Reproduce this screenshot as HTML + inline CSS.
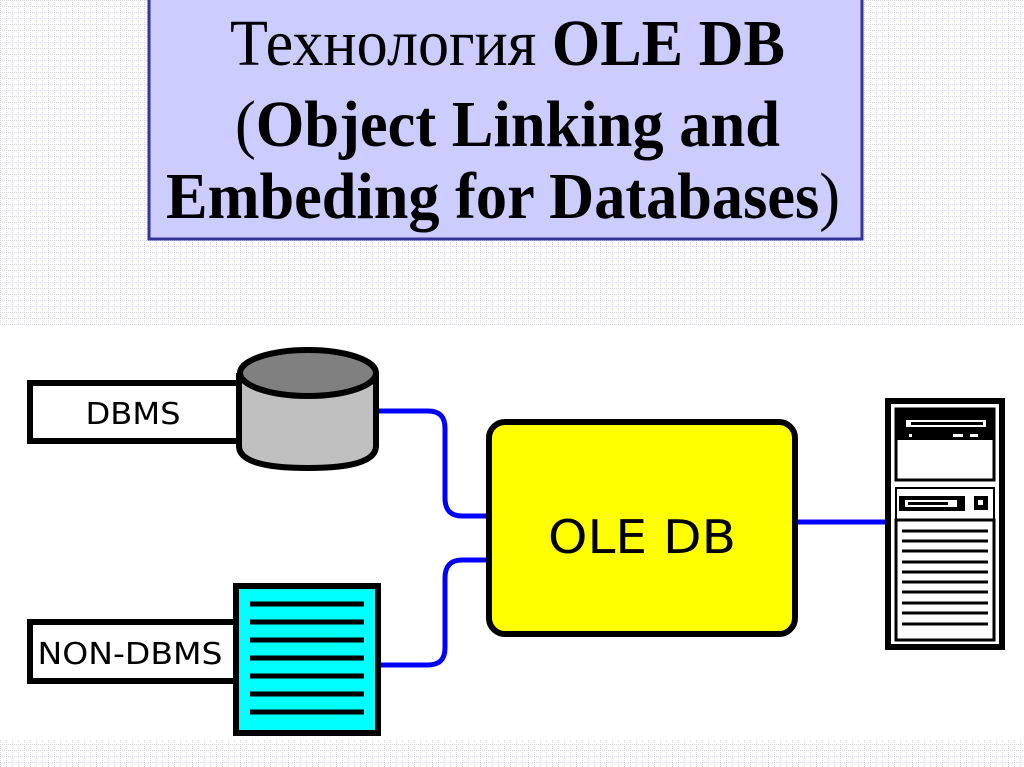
<!DOCTYPE html>
<html><head><meta charset="utf-8"><style>
html,body{margin:0;padding:0;width:1024px;height:767px;overflow:hidden;background:#fff}
</style></head><body>
<svg width="1024" height="767" viewBox="0 0 1024 767" xmlns="http://www.w3.org/2000/svg">
<defs>
<pattern id="g" width="6" height="6" patternUnits="userSpaceOnUse">
<rect width="6" height="6" fill="#fff"/>
<path d="M0 0.5H6M0.5 0V6" stroke="#d4d4ee" stroke-width="1" stroke-dasharray="1 1"/>
</pattern>
</defs>
<rect x="0" y="0" width="1024" height="325" fill="url(#g)"/>
<rect x="0" y="740" width="1024" height="27" fill="url(#g)"/>
<rect x="149" y="-3" width="713" height="242" fill="#ccccff" stroke="#333399" stroke-width="3"/>
<g font-family="Liberation Serif, serif" font-size="66" fill="#000">
<text x="230" y="65" textLength="555" lengthAdjust="spacingAndGlyphs">Технология <tspan font-weight="bold">OLE DB</tspan></text>
<text x="235" y="146" textLength="545" lengthAdjust="spacingAndGlyphs">(<tspan font-weight="bold">Object Linking and</tspan></text>
<text x="166" y="218" textLength="674" lengthAdjust="spacingAndGlyphs"><tspan font-weight="bold">Embeding for Databases</tspan>)</text>
</g>
<!-- connectors -->
<g fill="none" stroke="#0000ff" stroke-width="5">
<path d="M378 411H428Q445 411 445 428V498Q445 516 462 516H490"/>
<path d="M378 665H428Q445 665 445 648V578Q445 560 462 560H490"/>
<path d="M795 522H888"/>
</g>
<!-- DBMS -->
<rect x="30" y="383" width="210" height="58" fill="#fff" stroke="#000" stroke-width="6"/>
<text x="133" y="424" font-family="DejaVu Sans, sans-serif" font-size="30" text-anchor="middle" textLength="95" lengthAdjust="spacingAndGlyphs">DBMS</text>
<path d="M239 373V446Q239 468 308 468Q376 468 376 446V373" fill="#c0c0c0" stroke="#000" stroke-width="6"/>
<ellipse cx="308" cy="373" rx="68" ry="23" fill="#808080" stroke="#000" stroke-width="6"/>
<!-- NON-DBMS -->
<rect x="30" y="622" width="208" height="59" fill="#fff" stroke="#000" stroke-width="6"/>
<text x="130" y="664" font-family="DejaVu Sans, sans-serif" font-size="30" text-anchor="middle" textLength="185" lengthAdjust="spacingAndGlyphs">NON-DBMS</text>
<rect x="236" y="586" width="142" height="147" fill="#00ffff" stroke="#000" stroke-width="6"/>
<g stroke="#000" stroke-width="5">
<path d="M250 604H364M250 622H364M250 640H364M250 658H364M250 676H364M250 694H364M250 712H364"/>
</g>
<!-- OLE DB -->
<rect x="489" y="422" width="306" height="212" rx="16" fill="#ffff00" stroke="#000" stroke-width="6"/>
<text x="642" y="553" font-family="DejaVu Sans, sans-serif" font-size="46" text-anchor="middle" textLength="188" lengthAdjust="spacingAndGlyphs">OLE DB</text>
<!-- server -->
<rect x="888" y="401" width="114" height="246" fill="#fff" stroke="#000" stroke-width="6"/>
<rect x="896" y="409" width="98" height="71" fill="#fff" stroke="#000" stroke-width="3"/>
<rect x="897" y="410" width="96" height="30" fill="#000"/>
<rect x="906" y="420" width="80" height="7" fill="#fff"/>
<rect x="911" y="422" width="72" height="3" fill="#000"/>
<rect x="909" y="434" width="3" height="3" fill="#fff"/>
<rect x="953" y="434" width="10" height="3" fill="#fff"/>
<rect x="970" y="434" width="8" height="3" fill="#fff"/>
<rect x="896" y="488" width="98" height="152" fill="#fff" stroke="#000" stroke-width="2"/>
<rect x="899" y="496" width="66" height="15" fill="#000"/>
<rect x="905" y="500" width="52" height="7" fill="#fff"/>
<rect x="908" y="502" width="40" height="3" fill="#000"/>
<rect x="974" y="496" width="14" height="14" fill="#000"/>
<rect x="978" y="500" width="5" height="5" fill="#fff"/>
<rect x="896" y="520" width="98" height="120" fill="#fff" stroke="#000" stroke-width="3"/>
<g stroke="#000" stroke-width="3">
<path d="M902 531H988M902 541H988M902 551H988M902 562H988M902 572H988M902 582H988M902 592H988M902 603H988M902 613H988M902 624H988"/>
</g>
</svg>
</body></html>
